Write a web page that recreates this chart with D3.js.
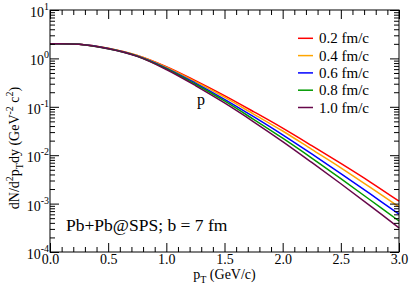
<!DOCTYPE html>
<html>
<head>
<meta charset="utf-8">
<script src="https://cdn.jsdelivr.net/npm/d3@7"></script>
<style>
  body { margin: 0; background: #fff; }
</style>
</head>
<body>
<div id="chart"></div>
<script>
// transverse momentum grid (GeV/c)
const pT = [0, 0.25, 0.5, 0.75, 1.0, 1.25, 1.5, 1.75, 2.0, 2.25, 2.5, 2.75, 3.0];

// legend labels and colours
const labels = ['0.2 fm/c', '0.4 fm/c', '0.6 fm/c', '0.8 fm/c', '1.0 fm/c'];
const colors = ['#ff0000', '#ffa500', '#0000ff', '#009a00', '#67074a'];

// proton spectra
const tau02 = [2.0, 1.95, 1.62, 1.15, 0.676, 0.347, 0.170, 0.0794, 0.0363, 0.0158, 0.00676, 0.00282, 0.00112];
const tau04 = [2.0, 1.95, 1.62, 1.15, 0.661, 0.331, 0.158, 0.0708, 0.0316, 0.0132, 0.00550, 0.00219, 0.000851];
const tau06 = [2.0, 1.95, 1.60, 1.12, 0.631, 0.309, 0.143, 0.0624, 0.0263, 0.0106, 0.00417, 0.00160, 0.000603];
const tau08 = [2.0, 1.95, 1.58, 1.11, 0.610, 0.292, 0.132, 0.0550, 0.0224, 0.00871, 0.00327, 0.00120, 0.000437];
const tau10 = [2.0, 1.95, 1.58, 1.10, 0.589, 0.275, 0.120, 0.0490, 0.0191, 0.00708, 0.00257, 0.000912, 0.000316];
const series = [tau02, tau04, tau06, tau08, tau10];

// tick values
const xMajor = [0, 0.5, 1.0, 1.5, 2.0, 2.5, 3.0];
const xMinor = [0.1, 0.2, 0.3, 0.4, 0.6, 0.7, 0.8, 0.9, 1.1, 1.2, 1.3, 1.4, 1.6, 1.7, 1.8, 1.9,
  2.1, 2.2, 2.3, 2.4, 2.6, 2.7, 2.8, 2.9];
const yExp = [-4, -3, -2, -1, 0, 1];

const W = 409, H = 287;
const mLeft = 50, mRight = 399, mTop = 10, mBottom = 252;
const serif = '"Liberation Serif", "Times New Roman", Times, serif';

const x = d3.scaleLinear().domain([0, 3]).range([mLeft, mRight]);
const y = d3.scaleLog().domain([1e-4, 10]).range([mBottom, mTop]);

const yMajor = yExp.map(e => Math.pow(10, e));
const yMinor = [];
yExp.slice(0, -1).forEach(e => { for (let k = 2; k <= 9; k++) yMinor.push(k * Math.pow(10, e)); });

const svg = d3.select('#chart')
  .append('svg')
  .attr('width', W)
  .attr('height', H)
  .style('font-family', serif);

// curves
const line = d3.line()
  .x((d, i) => x(pT[i]))
  .y(d => y(d))
  .curve(d3.curveCatmullRom.alpha(0.5));

svg.append('g')
  .selectAll('path')
  .data(series)
  .enter()
  .append('path')
  .attr('d', d => line(d))
  .attr('fill', 'none')
  .attr('stroke', (d, i) => colors[i])
  .attr('stroke-width', 1.5);

// axes, ticks pointing inward on all four sides
function addAxis(axis, tx, ty) {
  const g = svg.append('g')
    .attr('transform', `translate(${tx},${ty})`)
    .call(axis);
  g.select('.domain').remove();
  g.attr('font-family', serif);
  g.selectAll('line').attr('stroke', '#000');
  return g;
}

const bx = addAxis(d3.axisBottom(x).tickValues(xMajor).tickSize(-9).tickSizeOuter(0)
  .tickPadding(2).tickFormat(d3.format('.1f')), 0, mBottom);
bx.attr('font-size', 14);
bx.selectAll('text').attr('fill', '#000');
addAxis(d3.axisBottom(x).tickValues(xMinor).tickSize(-5).tickFormat(''), 0, mBottom);
addAxis(d3.axisTop(x).tickValues(xMajor).tickSize(-9).tickFormat(''), 0, mTop);
addAxis(d3.axisTop(x).tickValues(xMinor).tickSize(-5).tickFormat(''), 0, mTop);

addAxis(d3.axisLeft(y).tickValues(yMajor).tickSize(-9).tickFormat(''), mLeft, 0);
addAxis(d3.axisLeft(y).tickValues(yMinor).tickSize(-5).tickFormat(''), mLeft, 0);
addAxis(d3.axisRight(y).tickValues(yMajor).tickSize(-9).tickFormat(''), mRight, 0);
addAxis(d3.axisRight(y).tickValues(yMinor).tickSize(-5).tickFormat(''), mRight, 0);

// y tick labels as 10^n
const yl = svg.append('g')
  .selectAll('text')
  .data(yExp)
  .enter()
  .append('text')
  .attr('x', mLeft - 1)
  .attr('y', e => y(Math.pow(10, e)) + 7)
  .attr('text-anchor', 'end')
  .style('font-size', '14px');
yl.append('tspan').text('10');
yl.append('tspan').attr('dy', -7).style('font-size', '10px').text(e => e < 0 ? '-' + (-e) : e);

// frame
svg.append('rect')
  .attr('x', mLeft).attr('y', mTop)
  .attr('width', mRight - mLeft).attr('height', mBottom - mTop)
  .attr('fill', 'none').attr('stroke', '#000').attr('stroke-width', 1);

// axis titles
const xt = svg.append('text')
  .attr('x', (mLeft + mRight) / 2)
  .attr('y', 279)
  .attr('text-anchor', 'middle')
  .style('font-size', '14px');
xt.append('tspan').text('p');
xt.append('tspan').attr('dy', 4).style('font-size', '10px').text('T');
xt.append('tspan').attr('dy', -4).text(' (GeV/c)');

const yt = svg.append('text')
  .attr('transform', `translate(19,${148}) rotate(-90)`)
  .attr('text-anchor', 'middle')
  .style('font-size', '14px');
yt.append('tspan').text('dN/d');
yt.append('tspan').attr('dy', -6).style('font-size', '10px').text('2');
yt.append('tspan').attr('dy', 6).text('p');
yt.append('tspan').attr('dy', 4).style('font-size', '10px').text('T');
yt.append('tspan').attr('dy', -4).text('dy (GeV');
yt.append('tspan').attr('dy', -6).style('font-size', '10px').text('-2');
yt.append('tspan').attr('dy', 6).text(' c');
yt.append('tspan').attr('dy', -6).style('font-size', '10px').text('2');
yt.append('tspan').attr('dy', 6).text(')');

// legend
const lg = svg.append('g')
  .selectAll('g')
  .data(labels)
  .enter()
  .append('g')
  .attr('transform', (d, i) => `translate(298,${38.3 + i * 17.3})`);
lg.append('line')
  .attr('x1', 0).attr('x2', 15)
  .attr('stroke', (d, i) => colors[i])
  .attr('stroke-width', 1.5);
lg.append('text')
  .attr('x', 21).attr('y', 5)
  .style('font-size', '15px')
  .text(d => d);

// annotations
svg.append('text')
  .attr('x', 197).attr('y', 105)
  .style('font-size', '16px')
  .text('p');

svg.append('text')
  .attr('x', 66).attr('y', 231)
  .style('font-size', '17.5px')
  .text('Pb+Pb@SPS; b = 7 fm');
</script>
</body>
</html>
